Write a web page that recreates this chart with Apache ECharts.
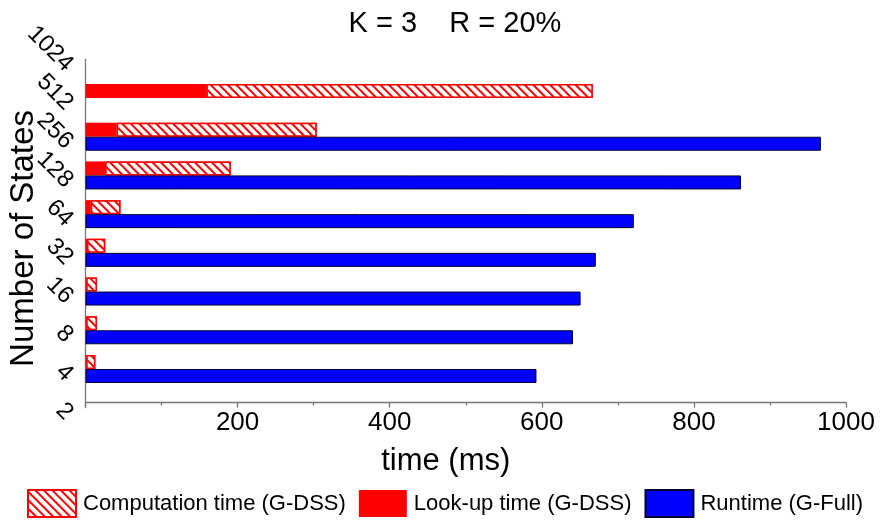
<!DOCTYPE html>
<html>
<head>
<meta charset="utf-8">
<script src="https://cdn.jsdelivr.net/npm/echarts@6/dist/echarts.min.js"></script>
<style>
  html, body { margin: 0; padding: 0; background: #fff; }
  #chart { width: 881px; height: 521px; }
</style>
</head>
<body>
<div id="chart"></div>
<script>
// Number of states (y categories)
const states = ['2', '4', '8', '16', '32', '64', '128', '256', '512', '1024'];
// G-DSS look-up time (ms)
const lookupTime = [null, 1, 1, 1, 2, 7, 26, 41, 159, null];
// G-DSS computation time (ms), stacked after the look-up time
const computationTime = [null, 12, 14, 14, 24, 39, 165, 263, 508, null];
// G-Full runtime (ms)
const fullRuntime = [null, 593, 641, 651, 671, 721, 862, 967, null, null];

const FONT = '"Liberation Sans", Arial, sans-serif';

const hatch = {
  symbol: 'rect',
  symbolSize: 1,
  color: '#ff0000',
  backgroundColor: '#ffffff',
  dashArrayX: [1, 0],
  dashArrayY: [1.5, 3.5],
  rotation: Math.PI / 4
};

const chart = echarts.init(document.getElementById('chart'), null, { renderer: 'canvas' });

chart.setOption({
  animation: false,
  backgroundColor: '#ffffff',
  textStyle: { fontFamily: FONT },
  title: {
    text: 'K = 3    R = 20%',
    left: 450,
    top: 4,
    textAlign: 'center',
    textStyle: { fontFamily: FONT, fontSize: 29, fontWeight: 'normal', color: '#000' }
  },
  legend: {
    left: 22,
    top: 484,
    itemWidth: 48,
    itemHeight: 27,
    itemGap: 13,
    icon: 'rect',
    data: ['Computation time (G-DSS)', 'Look-up time (G-DSS)', 'Runtime (G-Full)'],
    textStyle: { fontFamily: FONT, fontSize: 22, color: '#000', padding: [0, 0, 0, 2] }
  },
  grid: {
    left: 85.5,
    right: 35,
    top: 59.3,
    bottom: 113.3,
    containLabel: false,
    outerBoundsMode: 'none'
  },
  xAxis: {
    type: 'value',
    min: 0,
    max: 1000,
    interval: 200,
    offset: -5,
    name: 'time (ms)',
    nameLocation: 'middle',
    nameGap: 43,
    nameMoveOverlap: false,
    nameTextStyle: { fontFamily: FONT, fontSize: 31, color: '#000', padding: [0, 40, 0, 0] },
    axisLine: { show: true, lineStyle: { color: '#777', width: 1.3 } },
    axisTick: { show: true, length: 5, lineStyle: { color: '#777', width: 1.3 } },
    minorTick: { show: true, splitNumber: 2, length: 3, lineStyle: { color: '#777', width: 1.3 } },
    splitLine: { show: false },
    axisLabel: {
      showMinLabel: false,
      margin: 7,
      fontFamily: FONT,
      fontSize: 26,
      color: '#000',
      formatter: function (v) { return String(v); }
    }
  },
  yAxis: {
    type: 'category',
    data: states,
    boundaryGap: false,
    name: 'Number of States',
    nameLocation: 'middle',
    nameGap: 45,
    nameRotate: 90,
    nameMoveOverlap: false,
    nameTextStyle: { fontFamily: FONT, fontSize: 33, color: '#000', padding: [0, 10, 0, 0] },
    axisLine: { show: true, lineStyle: { color: '#777', width: 1.3 } },
    axisTick: { show: false },
    splitLine: { show: false },
    axisLabel: {
      interval: 0,
      rotate: -45,
      align: 'right',
      verticalAlign: 'top',
      margin: 8,
      fontFamily: FONT,
      fontSize: 24,
      color: '#000'
    }
  },
  series: [
    {
      name: 'Look-up time (G-DSS)',
      type: 'bar',
      stack: 'dss',
      barWidth: 14,
      barGap: '0%',
      data: lookupTime,
      itemStyle: { color: '#ff0000', borderColor: '#ff0000', borderWidth: 0 }
    },
    {
      name: 'Computation time (G-DSS)',
      type: 'bar',
      stack: 'dss',
      barWidth: 14,
      barGap: '0%',
      data: computationTime,
      itemStyle: { color: '#ffffff', borderColor: '#ff0000', borderWidth: 1.5, decal: hatch }
    },
    {
      name: 'Runtime (G-Full)',
      type: 'bar',
      barWidth: 14,
      barGap: '0%',
      data: fullRuntime,
      itemStyle: { color: '#0000ff', borderColor: '#000033', borderWidth: 1 }
    }
  ]
});
</script>
</body>
</html>
